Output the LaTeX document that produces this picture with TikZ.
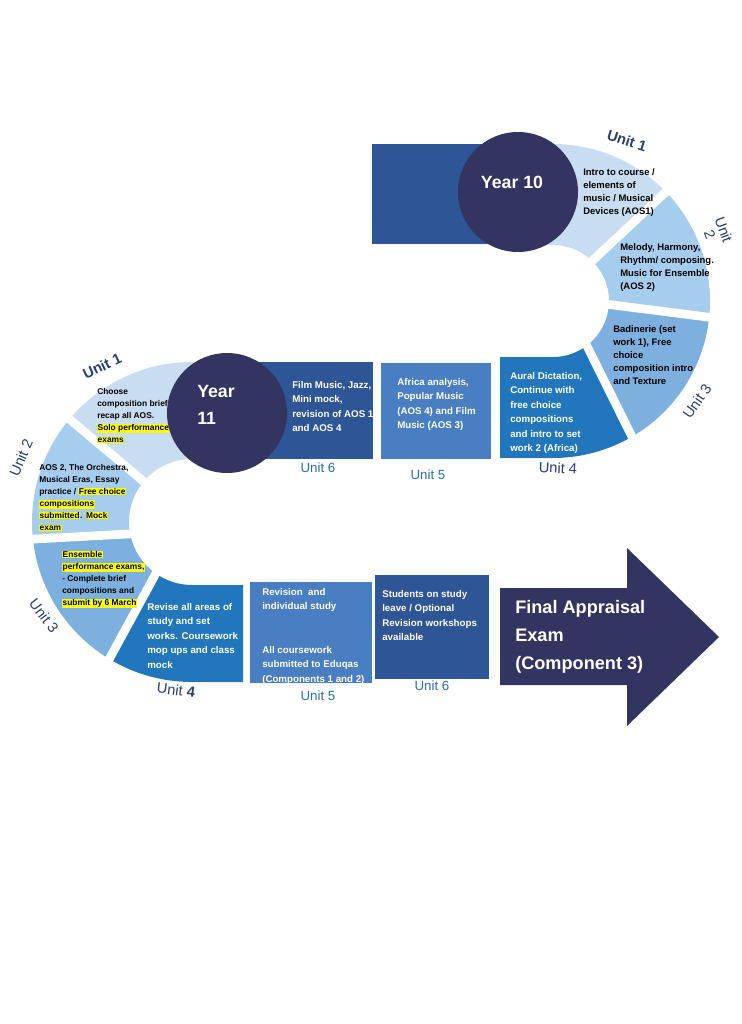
\documentclass[tikz,border=0pt]{standalone}
\usepackage{fontspec}
\setmainfont{Liberation Sans}
\usetikzlibrary{calc}
\definecolor{navy}{HTML}{33345F}
\definecolor{darkb}{HTML}{2E5596}
\definecolor{medb}{HTML}{4A7EC2}
\definecolor{strongb}{HTML}{2276BC}
\definecolor{ua}{HTML}{C8DDF2}
\definecolor{ub}{HTML}{A7CDEE}
\definecolor{uc}{HTML}{7DB0DF}
\definecolor{arclab}{HTML}{2B3F6B}
\definecolor{boxlab}{HTML}{2E6E9E}
\definecolor{hl}{HTML}{FFFF00}
\newcommand{\hlt}[1]{{\setlength{\fboxsep}{0.3pt}\colorbox{hl}{#1}}}
\begin{document}
\begin{tikzpicture}[x=0.75pt,y=-0.75pt,
  gapline/.style={draw=white,line width=6.5pt},
  tk/.style={anchor=north west,inner sep=0pt,align=left,text=black,font=\bfseries\fontsize{7.1}{9.75}\selectfont},
  tks/.style={anchor=north west,inner sep=0pt,align=left,text=black,font=\bfseries\fontsize{6.3}{9}\selectfont},
  tw/.style={anchor=north west,inner sep=0pt,align=left,text=white,font=\bfseries\fontsize{7.3}{10.85}\selectfont},
  arcl/.style={inner sep=0pt,text=arclab,font=\fontsize{11}{12}\selectfont},
  boxl/.style={inner sep=0pt,text=boxlab,font=\fontsize{10}{12}\selectfont},
  yearc/.style={fill=navy,draw=none}]
\useasboundingbox (0,0) rectangle (742,1024);
\coordinate (R) at (553,301);
\coordinate (L) at (192,522);
% ---------- Year 10 ring ----------
\fill[darkb] (372,144) rectangle (525,244);
\fill[ua] (520,144) -- (553,144) arc[start angle=-90,end angle=-44,radius=157]
  -- ($(R)+(-46:56)$) arc[start angle=-46,end angle=-90,radius=56] -- (520,245) -- cycle;
\fill[ub] ($(R)+(-44:157)$) arc[start angle=-44,end angle=6,radius=157]
  -- ($(R)+(3:56)$) arc[start angle=3,end angle=-46,radius=56] -- cycle;
\fill[uc] ($(R)+(6:157)$) arc[start angle=6,end angle=60,radius=157]
  -- ($(R)+(51:56)$) arc[start angle=51,end angle=3,radius=56] -- cycle;
\fill[strongb] ($(R)+(60:157)$) arc[start angle=60,end angle=90,radius=157]
  -- (500,458) -- (500,357) -- (553,357) arc[start angle=90,end angle=51,radius=56] -- cycle;
\draw[gapline] ($(R)+(-46:48)$) -- ($(R)+(-44:165)$);
\draw[gapline] ($(R)+(3:48)$) -- ($(R)+(6:165)$);
\draw[gapline] ($(R)+(51:48)$) -- ($(R)+(60:165)$);
% ---------- Year 11 middle row ----------
\fill[darkb] (228,362) rectangle (373,459);
\fill[medb] (381,363) rectangle (491,459);
% ---------- Year 11 ring ----------
\fill[ua] ($(L)+(220:160)$) arc[start angle=220,end angle=270,radius=160]
  -- (232,362) -- (232,459) -- (192,459) arc[start angle=270,end angle=220,radius=63] -- cycle;
\fill[ub] ($(L)+(174:160)$) arc[start angle=174,end angle=220,radius=160]
  -- ($(L)+(220:63)$) arc[start angle=220,end angle=168,radius=63] -- cycle;
\fill[uc] ($(L)+(121:160)$) arc[start angle=121,end angle=174,radius=160]
  -- ($(L)+(168:63)$) arc[start angle=168,end angle=126,radius=63] -- cycle;
\fill[strongb] (243,682) -- (192,682) arc[start angle=90,end angle=121,radius=160]
  -- ($(L)+(126:63)$) arc[start angle=126,end angle=90,radius=63] -- (243,585) -- cycle;
\draw[gapline] ($(L)+(220:55)$) -- ($(L)+(220:168)$);
\draw[gapline] ($(L)+(168:55)$) -- ($(L)+(174:168)$);
\draw[gapline] ($(L)+(126:55)$) -- ($(L)+(121:168)$);
% ---------- bottom row ----------
\fill[medb] (250,582) rectangle (372,683);
\fill[darkb] (375,575) rectangle (489,679);
\fill[navy] (500,588) -- (627,588) -- (627,548) -- (719,637) -- (627,726) -- (627,685) -- (500,685) -- cycle;
% ---------- texts ----------
\node[tk] (t10a) at (583,168.5) {Intro to course /\\elements of\\music / Musical\\Devices (AOS1)};
\node[tk] (t10b) at (620,243.5) {Melody, Harmony,\\Rhythm/ composing.\\Music for Ensemble\\(AOS 2)};
\node[tk] (t10c) at (613,325.5) {Badinerie (set\\work 1), Free\\choice\\composition intro\\and Texture};
\node[tw] (t10d) at (510,372) {Aural Dictation,\\Continue with\\free choice\\compositions\\and intro to set\\work 2 (Africa)};
\node[tw] (t11f) at (292,381) {Film Music, Jazz,\\Mini mock,\\revision of AOS 1\\and AOS 4};
\node[tw] (t11e) at (397,378) {Africa analysis,\\Popular Music\\(AOS 4) and Film\\Music (AOS 3)};
\node[tks] (t11a) at (97,388) {Choose\\composition brief,\\recap all AOS.\\\hlt{Solo performance}\\\hlt{exams}};
\node[tks] (t11b) at (39,464) {AOS 2, The Orchestra,\\Musical Eras, Essay\\practice / \hlt{Free choice}\\\hlt{compositions}\\\hlt{submitted}. \hlt{Mock}\\\hlt{exam}};
\node[tks] (t11c) at (62,551) {\hlt{Ensemble}\\\hlt{performance exams,}\\- Complete brief\\compositions and\\\hlt{submit by 6 March}};
\node[tw] (t11d) at (147,603) {Revise all areas of\\study and set\\works. Coursework\\mop ups and class\\mock};
\node[tw] (t11g) at (262,588) {Revision~ and\\individual study\\\mbox{}\\\mbox{}\\All coursework\\submitted to Eduqas\\(Components 1 and 2)};
\node[tw] (t11h) at (382,590) {Students on study\\leave / Optional\\Revision workshops\\available};
\node[anchor=north west,inner sep=0pt,align=left,text=white,font=\bfseries\fontsize{13.6}{21}\selectfont] (fin) at (515,600) {Final Appraisal\\Exam\\(Component 3)};
% ---------- circles ----------
\node[yearc,circle,minimum size=90pt,inner sep=0pt] (c10) at (518,192) {};
\node[text=white,font=\bfseries\fontsize{13.3}{20}\selectfont,inner sep=0pt] (y10) at (512,182) {Year 10};
\node[yearc,circle,minimum size=90pt,inner sep=0pt] (c11) at (227,413) {};
\node[text=white,font=\bfseries\fontsize{13.3}{20}\selectfont,inner sep=0pt,align=left,anchor=north west] (y11) at (197,385) {Year\\11};
% ---------- unit labels ----------
\node[arcl,font=\bfseries\fontsize{11}{12}\selectfont,rotate=-18] (l10a) at (627,141) {Unit 1};
\node[arcl,align=center,rotate=-70,font=\fontsize{11}{11}\selectfont] (l10b) at (717,232) {Unit\\2};
\node[arcl,rotate=55] (l10c) at (697,401) {Unit 3};
\node[arcl,rotate=-3] (l10d) at (558,468) {Unit 4};
\node[boxl] (l11f) at (318,468) {Unit 6};
\node[boxl] (l11e) at (428,475) {Unit 5};
\node[arcl,font=\bfseries\fontsize{11}{12}\selectfont,rotate=25] (l11a) at (102,366) {Unit 1};
\node[arcl,rotate=67] (l11b) at (21,458) {Unit 2};
\node[arcl,rotate=-53] (l11c) at (44,616) {Unit 3};
\node[arcl,rotate=-7] (l11d) at (176,690) {Unit \textbf{4}};
\node[boxl] (l11g) at (318,696) {Unit 5};
\node[boxl] (l11h) at (432,686) {Unit 6};
\end{tikzpicture}
\end{document}
